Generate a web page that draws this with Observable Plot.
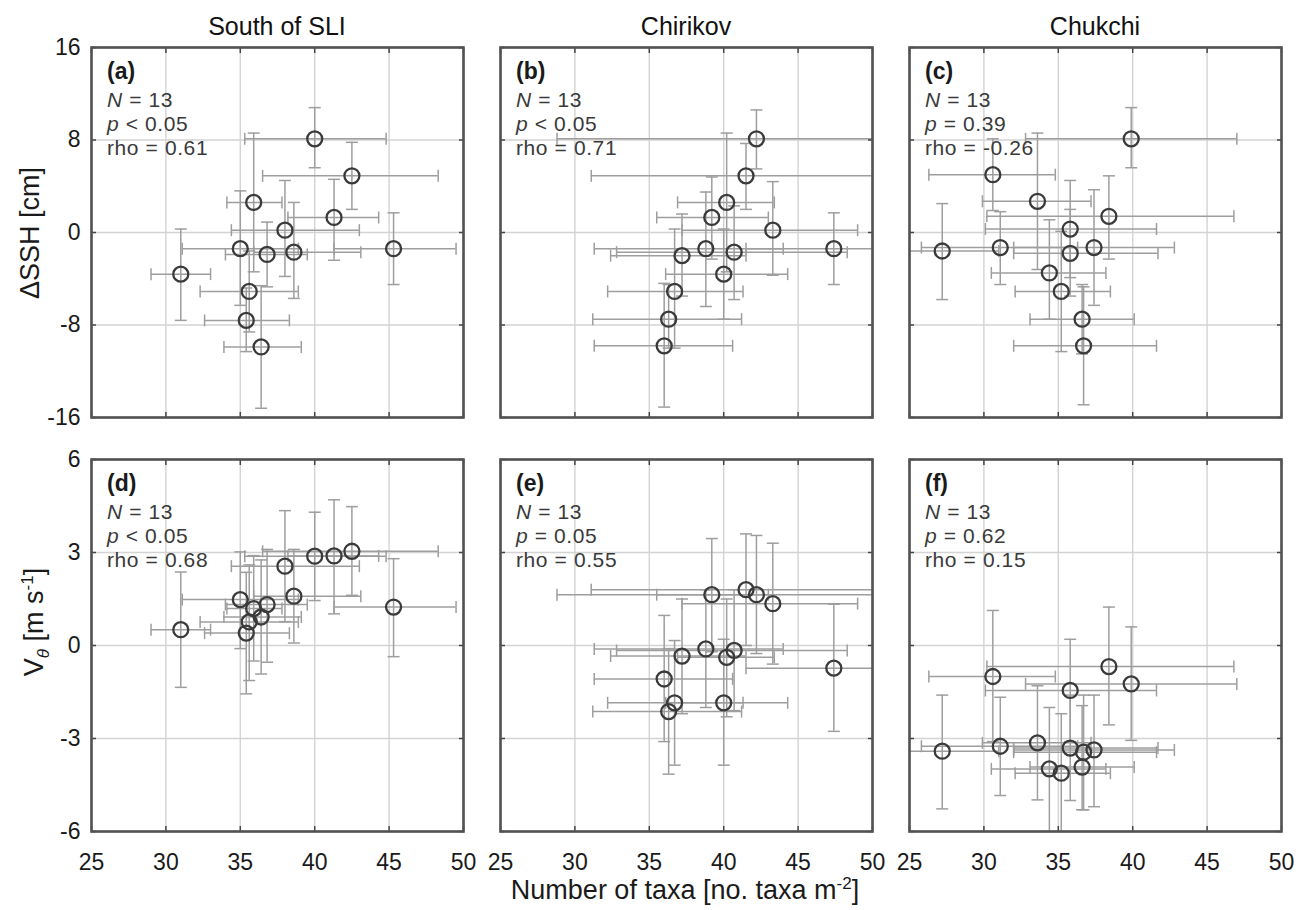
<!DOCTYPE html>
<html><head><meta charset="utf-8">
<script src="https://cdn.jsdelivr.net/npm/d3@7"></script>
<script src="https://cdn.jsdelivr.net/npm/@observablehq/plot@0.6"></script>
<style>
body{margin:0;background:#fff;}
#root{position:relative;width:1298px;height:910px;overflow:hidden;background:#fff;font-family:"Liberation Sans",Arial,sans-serif;}
#root > svg{position:absolute;}
</style></head><body><div id="root"></div>
<script>
// ---------- data ----------
const regions = ["South of SLI", "Chirikov", "Chukchi"];
const xTicks = [25, 30, 35, 40, 45, 50];
const sshTicks = [-16, -8, 0, 8, 16];
const vTicks = [-6, -3, 0, 3, 6];
const tagsTop = ["(a)", "(b)", "(c)"];
const tagsBottom = ["(d)", "(e)", "(f)"];
const nObs = [13, 13, 13];
const sshP = ["< 0.05", "< 0.05", "= 0.39"];
const sshRho = ["0.61", "0.71", "-0.26"];
const vP = ["< 0.05", "= 0.05", "= 0.62"];
const vRho = ["0.68", "0.55", "0.15"];

// South of SLI
const sliTaxa   = [40.0, 42.5, 35.9, 41.3, 38.0, 35.0, 36.8, 38.6, 45.3, 31.0, 35.6, 35.4, 36.4];
const sliTaxaLo = [35.3, 36.5, 34.1, 38.2, 34.4, 31.1, 34.0, 35.9, 41.3, 29.0, 32.3, 32.6, 33.9];
const sliTaxaHi = [44.8, 48.3, 37.8, 44.3, 43.0, 38.9, 39.5, 43.1, 49.5, 33.0, 38.9, 38.3, 39.1];
const sliSsh    = [8.1, 4.9, 2.6, 1.3, 0.2, -1.4, -1.9, -1.7, -1.4, -3.6, -5.1, -7.6, -9.9];
const sliSshLo  = [5.6, 2.0, -3.4, -2.4, -3.8, -6.3, -4.7, -5.7, -4.5, -7.6, -8.6, -10.3, -15.2];
const sliSshHi  = [10.8, 7.8, 8.6, 4.6, 4.5, 3.6, 0.9, 2.6, 1.7, 0.3, -1.6, -4.8, -4.6];
const sliV      = [2.88, 3.04, 1.19, 2.89, 2.56, 1.48, 1.32, 1.59, 1.24, 0.51, 0.76, 0.40, 0.92];
const sliVLo    = [1.45, 1.62, -0.5, 1.02, 0.77, -0.1, -0.54, 0.08, -0.36, -1.35, -1.13, -1.56, -0.92];
const sliVHi    = [4.3, 4.48, 2.9, 4.7, 4.35, 3.02, 3.1, 3.1, 2.8, 2.37, 2.6, 2.36, 2.76];

// Chirikov
const chiTaxa   = [42.2, 41.5, 40.2, 39.2, 43.3, 47.4, 38.8, 40.7, 37.2, 40.0, 36.7, 36.3, 36.0];
const chiTaxaLo = [28.8, 31.1, 36.9, 35.5, 37.2, 41.5, 31.3, 32.8, 32.4, 36.1, 32.2, 31.2, 31.3];
const chiTaxaHi = [53.0, 52.0, 43.4, 43.0, 49.0, 52.0, 44.0, 48.3, 41.5, 44.3, 41.3, 41.2, 40.6];
const chiSsh    = [8.1, 4.9, 2.6, 1.3, 0.2, -1.4, -1.4, -1.7, -2.0, -3.6, -5.1, -7.5, -9.8];
const chiSshLo  = [5.5, 2.0, -3.4, -2.3, -3.7, -4.5, -6.4, -5.8, -5.5, -7.5, -10.0, -10.0, -15.1];
const chiSshHi  = [10.6, 7.7, 8.6, 4.8, 4.4, 1.7, 3.5, 2.3, 1.6, 0.3, 0.3, -4.5, -4.4];
const chiV      = [1.64, 1.80, -0.38, 1.64, 1.35, -0.73, -0.11, -0.16, -0.34, -1.85, -1.85, -2.13, -1.08];
const chiVLo    = [-0.26, 0.0, -2.3, -0.2, -0.6, -2.77, -2.0, -2.1, -2.2, -3.86, -3.86, -4.15, -3.1];
const chiVHi    = [3.55, 3.6, 1.5, 3.45, 3.3, 1.33, 1.8, 1.8, 1.5, 0.2, 0.16, -0.1, 0.97];

// Chukchi
const chuTaxa   = [39.9, 30.6, 33.6, 38.4, 35.8, 27.2, 31.1, 35.8, 37.4, 34.4, 35.2, 36.6, 36.7];
const chuTaxaLo = [32.8, 26.3, 29.9, 30.2, 30.1, 23.0, 25.8, 32.0, 32.0, 30.5, 32.1, 33.1, 32.0];
const chuTaxaHi = [47.0, 34.8, 37.2, 46.8, 41.6, 31.0, 36.3, 41.7, 42.8, 38.2, 38.5, 40.1, 41.6];
const chuSsh    = [8.1, 5.0, 2.7, 1.4, 0.3, -1.6, -1.3, -1.8, -1.3, -3.5, -5.1, -7.5, -9.8];
const chuSshLo  = [5.6, 1.9, -3.2, -2.3, -3.9, -5.8, -4.5, -5.5, -6.3, -7.5, -10.3, -10.5, -14.9];
const chuSshHi  = [10.8, 8.1, 8.6, 4.9, 4.5, 2.5, 1.8, 2.0, 3.7, 1.1, 0.1, -4.5, -4.7];
const chuV      = [-1.24, -1.0, -3.14, -0.68, -1.45, -3.41, -3.25, -3.31, -3.37, -3.98, -4.12, -3.92, -3.44];
const chuVLo    = [-3.06, -3.1, -4.98, -2.56, -3.1, -5.27, -4.84, -5.0, -5.2, -6.0, -6.2, -5.3, -5.3];
const chuVHi    = [0.6, 1.13, -1.3, 1.24, 0.2, -1.6, -1.67, -1.6, -1.6, -2.0, -2.2, -1.94, -1.6];

// ---------- build tables ----------
function table(x, xlo, xhi, y, ylo, yhi) {
  return x.map((v, i) => ({x: v, xlo: xlo[i], xhi: xhi[i], y: y[i], ylo: ylo[i], yhi: yhi[i]}));
}
const sshData = [
  table(sliTaxa, sliTaxaLo, sliTaxaHi, sliSsh, sliSshLo, sliSshHi),
  table(chiTaxa, chiTaxaLo, chiTaxaHi, chiSsh, chiSshLo, chiSshHi),
  table(chuTaxa, chuTaxaLo, chuTaxaHi, chuSsh, chuSshLo, chuSshHi)
];
const vData = [
  table(sliTaxa, sliTaxaLo, sliTaxaHi, sliV, sliVLo, sliVHi),
  table(chiTaxa, chiTaxaLo, chiTaxaHi, chiV, chiVLo, chiVHi),
  table(chuTaxa, chuTaxaLo, chuTaxaHi, chuV, chuVLo, chuVHi)
];

// ---------- layout ----------
const colLeft = [91, 500, 909];
const panelW = 372;
const rowTop = [47, 459];
const rowH = [370, 372];
const mL = 70, mR = 20, mT = 20, mB = 50;
const FONT = '"Liberation Sans", Arial, sans-serif';
const EB = "#9e9e9e";
const fmt = d => String(d);

const hCap = {draw(ctx, size) { const r = Math.sqrt(size / Math.PI); ctx.moveTo(-r, 0); ctx.lineTo(r, 0); }};
const vCap = {draw(ctx, size) { const r = Math.sqrt(size / Math.PI); ctx.moveTo(0, -r); ctx.lineTo(0, r); }};

const root = document.getElementById("root");

function panel(data, yDomain, yTicks, col, row) {
  const showY = col === 0, showX = row === 1;
  const marks = [
    Plot.gridX(xTicks, {stroke: "#d3d3d3", strokeOpacity: 1, strokeWidth: 1.4}),
    Plot.gridY(yTicks, {stroke: "#d3d3d3", strokeOpacity: 1, strokeWidth: 1.4}),
    Plot.ruleY(data, {y: "y", x1: "xlo", x2: "xhi", stroke: EB, strokeWidth: 1.5, clip: true}),
    Plot.ruleX(data, {x: "x", y1: "ylo", y2: "yhi", stroke: EB, strokeWidth: 1.5, clip: true}),
    Plot.dot(data, {x: "x", y: "ylo", symbol: hCap, r: 6, stroke: EB, fill: "none", strokeWidth: 1.5, clip: true}),
    Plot.dot(data, {x: "x", y: "yhi", symbol: hCap, r: 6, stroke: EB, fill: "none", strokeWidth: 1.5, clip: true}),
    Plot.dot(data, {x: "xlo", y: "y", symbol: vCap, r: 6, stroke: EB, fill: "none", strokeWidth: 1.5, clip: true}),
    Plot.dot(data, {x: "xhi", y: "y", symbol: vCap, r: 6, stroke: EB, fill: "none", strokeWidth: 1.5, clip: true}),
    Plot.dot(data, {x: "x", y: "y", r: 7.5, stroke: "#3a3a3a", strokeWidth: 2.3, fill: "none"}),
    Plot.axisX(xTicks, {anchor: "top", tickSize: -5, tickFormat: () => "", label: null, stroke: "#444", strokeWidth: 1.5}),
    Plot.axisY(yTicks, {anchor: "right", tickSize: -5, tickFormat: () => "", label: null, stroke: "#444", strokeWidth: 1.5}),
    Plot.axisX(xTicks, {anchor: "bottom", tickSize: -5, tickFormat: () => "", label: null, stroke: "#444", strokeWidth: 1.5}),
    Plot.axisY(yTicks, {anchor: "left", tickSize: -5, tickFormat: () => "", label: null, stroke: "#444", strokeWidth: 1.5}),
    Plot.frame({stroke: "#525252", strokeWidth: 2.6})
  ];
  if (showY) marks.push(Plot.axisY(yTicks, {anchor: "left", tickSize: 0, tickPadding: 11, tickFormat: fmt, label: null, fontSize: 23, fill: "#1a1a1a"}));
  if (showX) marks.push(Plot.axisX(xTicks, {anchor: "bottom", tickSize: 0, tickPadding: 22, tickFormat: fmt, label: null, fontSize: 23, fill: "#1a1a1a"}));
  const el = Plot.plot({
    width: panelW + mL + mR,
    height: rowH[row] + mT + mB,
    marginLeft: mL, marginRight: mR, marginTop: mT, marginBottom: mB,
    x: {domain: [25, 50]},
    y: {domain: yDomain},
    style: {background: "transparent", overflow: "visible", fontFamily: FONT, fontSize: "23px", color: "#1a1a1a"},
    marks
  });
  el.style.position = "absolute";
  el.style.left = (colLeft[col] - mL) + "px";
  el.style.top = (rowTop[row] - mT) + "px";
  el.style.maxWidth = "none";
  root.appendChild(el);
}

for (let c = 0; c < 3; c++) {
  panel(sshData[c], [-16, 16], sshTicks, c, 0);
  panel(vData[c], [-6, 6], vTicks, c, 1);
}

// ---------- text overlay ----------
const esc = s => s.replace(/&/g, "&amp;").replace(/</g, "&lt;");
let t = "";
regions.forEach((r, c) => {
  t += `<text x="${colLeft[c] + panelW / 2}" y="35" text-anchor="middle" font-size="25" fill="#111">${esc(r)}</text>`;
});
function annot(c, row, tag, n, p, rho) {
  const x = colLeft[c] + 16, y0 = rowTop[row];
  return `<text x="${x}" y="${y0 + 32}" font-size="23" font-weight="bold" fill="#1a1a1a">${tag}</text>` +
    `<text x="${x}" y="${y0 + 60}" font-size="21" fill="#3a3a3a" letter-spacing="0.6"><tspan font-style="italic">N</tspan> = ${n}</text>` +
    `<text x="${x}" y="${y0 + 84}" font-size="21" fill="#3a3a3a" letter-spacing="0.6"><tspan font-style="italic">p</tspan> ${esc(p)}</text>` +
    `<text x="${x}" y="${y0 + 108}" font-size="21" fill="#3a3a3a" letter-spacing="0.6">rho = ${rho}</text>`;
}
for (let c = 0; c < 3; c++) {
  t += annot(c, 0, tagsTop[c], nObs[c], sshP[c], sshRho[c]);
  t += annot(c, 1, tagsBottom[c], nObs[c], vP[c], vRho[c]);
}
// axis labels
t += `<text transform="translate(39,233) rotate(-90)" text-anchor="middle" font-size="27" fill="#1a1a1a">ΔSSH [cm]</text>`;
t += `<text transform="translate(43,622) rotate(-90)" text-anchor="middle" font-size="27" fill="#1a1a1a">V<tspan font-size="17" dy="6" font-style="italic">θ</tspan><tspan dy="-6"> [m s</tspan><tspan font-size="17" dy="-10">-1</tspan><tspan dy="10">]</tspan></text>`;
t += `<text x="685" y="899" text-anchor="middle" font-size="27" fill="#1a1a1a">Number of taxa [no. taxa m<tspan font-size="17" dy="-10">-2</tspan><tspan dy="10">]</tspan></text>`;

const ov = document.createElementNS("http://www.w3.org/2000/svg", "svg");
ov.setAttribute("width", 1298);
ov.setAttribute("height", 910);
ov.setAttribute("font-family", FONT);
ov.style.left = "0px"; ov.style.top = "0px"; ov.style.pointerEvents = "none";
ov.innerHTML = t;
root.appendChild(ov);
</script></body></html>
